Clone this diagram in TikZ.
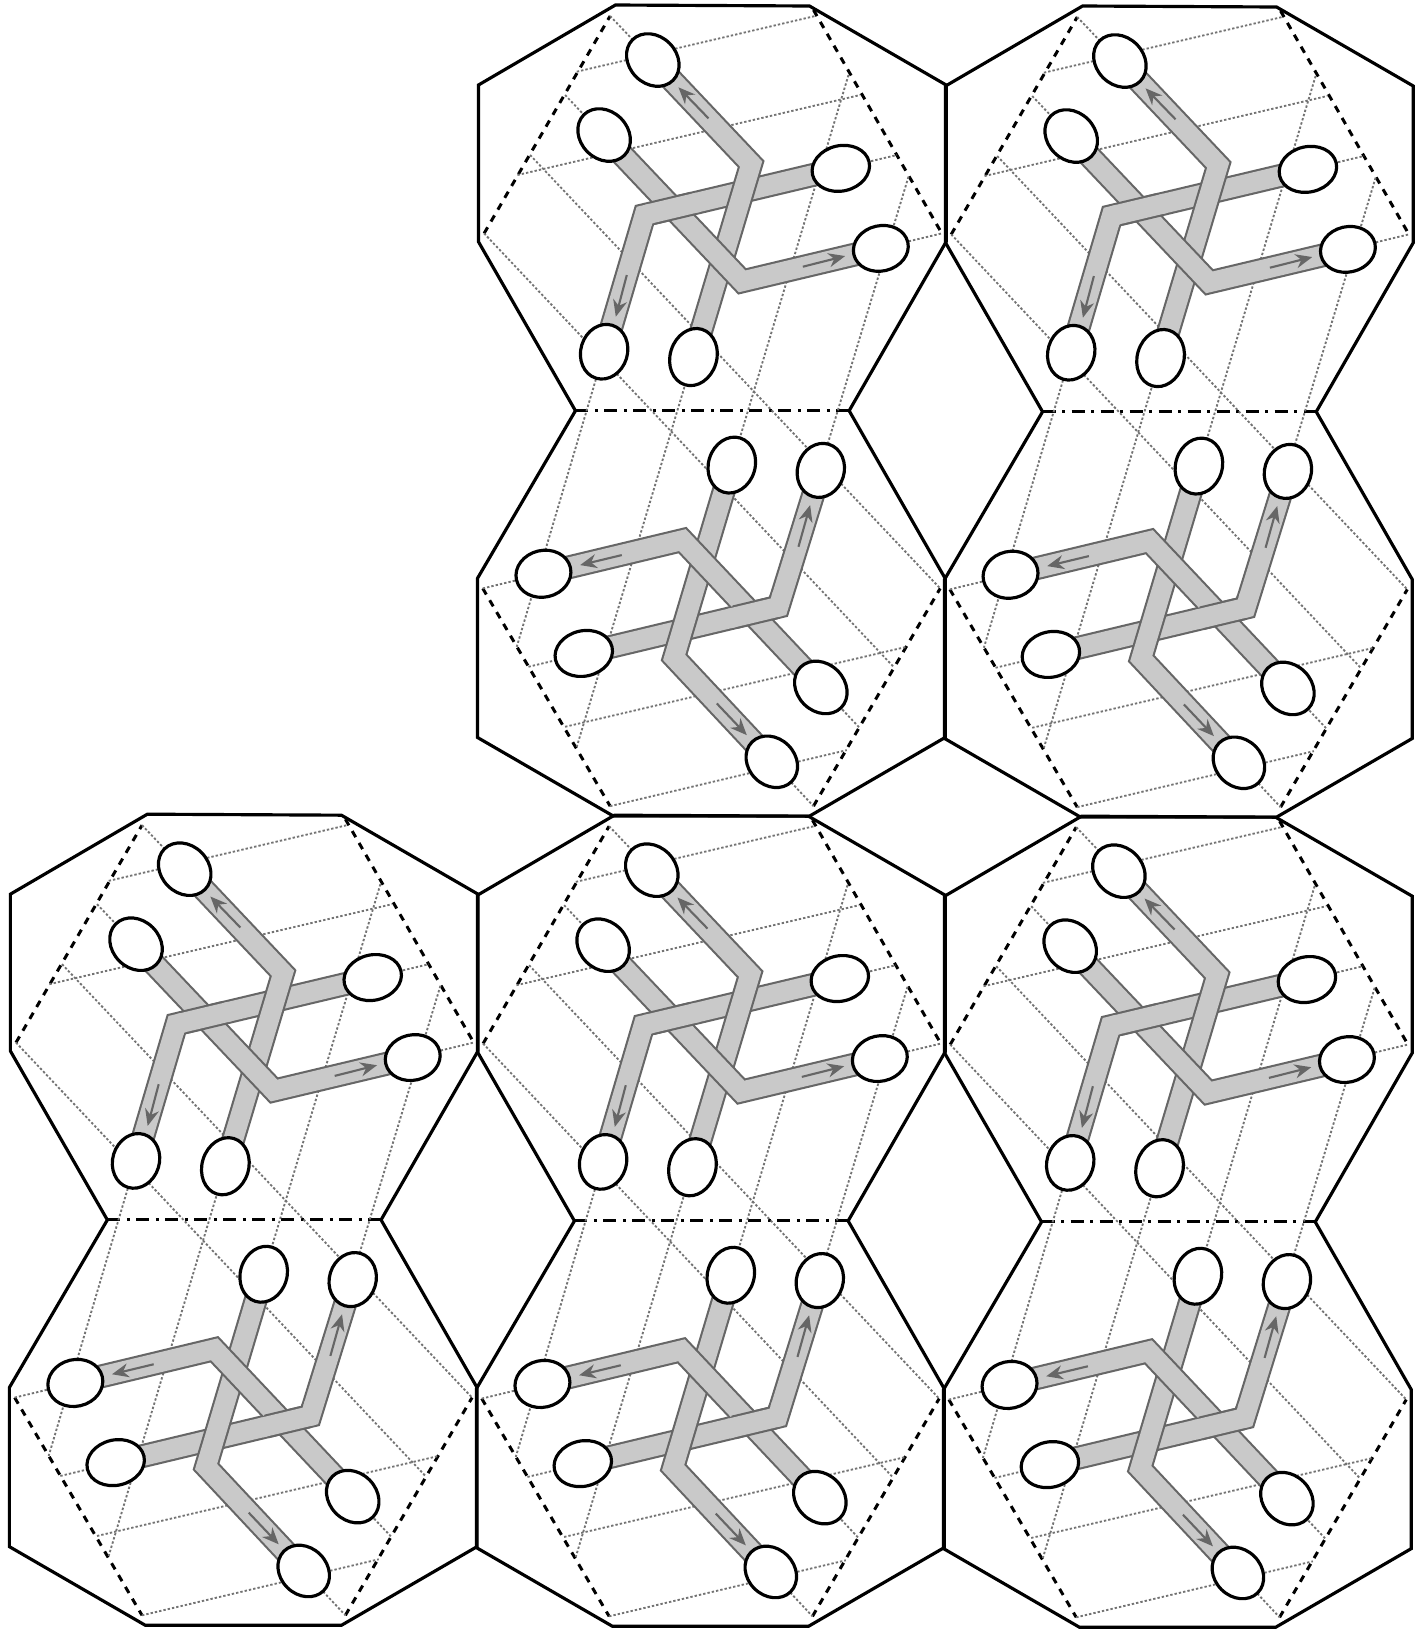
\documentclass[tikz,border=0pt]{standalone}
\usetikzlibrary{arrows.meta}
\tikzset{
  hull/.style={line width=1.8pt,line join=miter,black},
  folddash/.style={line width=1.7pt,black,dash pattern=on 4pt off 3.8pt},
  foldmid/.style={line width=1.8pt,black,dash pattern=on 7.4pt off 3.7pt on 1.7pt off 3.7pt},
  gridline/.style={line width=1.05pt,color=black!55,dash pattern=on 1.35pt off 1.15pt},
  tubeedge/.style={line width=13.6pt,color=black!60,line join=miter,miter limit=10},
  tubefill/.style={line width=11.2pt,color=black!21,line join=miter,miter limit=10},
  port/.style={line width=1.8pt,draw=black,fill=white},
  flow/.style={line width=1.2pt,color=black!60,-{Stealth[length=9.5pt,width=8pt]}},
}
\newcommand{\tube}[1]{\draw[tubeedge] #1; \draw[tubefill] #1;}
% re-lays a tube over a crossing: the fill reaches past the edges so that no seam shows
\newcommand{\tubepatch}[3]{%
  \begin{scope}\clip #1 circle (#2); \draw[tubeedge] #3; \end{scope}%
  \begin{scope}\clip #1 circle (#2+12); \draw[tubefill] #3; \end{scope}}
\newcommand{\cellunit}[2]{%
\begin{scope}[shift={(#1*0.02,-#2*0.02)},x=0.006667cm,y=-0.006667cm]
  % hull
  \draw[hull] (25,725)--(25,255)--(436,15)--(1018,18)--(1428,255)--(1428,725)--(1137,1232)--(1425,1735)--(1425,2212)--(1018,2448)--(430,2448)--(22,2212)--(22,1735)--(316,1232)--cycle;
  \draw[foldmid] (316,1232)--(1137,1232);
  \draw[folddash] (42,700)--(420,48);
  \draw[folddash] (1030,30)--(1415,700);
  \draw[folddash] (38,1765)--(420,2418);
  \draw[folddash] (1030,2418)--(1410,1765);
  % grid
  \draw[gridline] (320,215)--(1035,48);
  \draw[gridline] (142,525)--(1170,285);
  \draw[gridline] (523,645)--(1280,465);
  \draw[gridline] (816,844)--(1415,700);
  \draw[gridline] (420,48)--(843,492);
  \draw[gridline] (285,285)--(816,844);
  \draw[gridline] (180,465)--(1410,1765);
  \draw[gridline] (42,700)--(1270,2000);
  \draw[gridline] (1135,225)--(612,1972);
  \draw[gridline] (1315,530)--(925,1820);
  \draw[gridline] (523,645)--(140,1940);
  \draw[gridline] (843,492)--(320,2240);
  \draw[gridline] (38,1765)--(637,1620);
  \draw[gridline] (175,2000)--(925,1820);
  \draw[gridline] (285,2180)--(1310,1940);
  \draw[gridline] (420,2418)--(1130,2250);
  \draw[gridline] (612,1972)--(1030,2418);
  \draw[gridline] (637,1620)--(1170,2185);
  % upper tubes
  \tube{(1112,505)--(523,645)--(402,1055)}
  \tube{(548,180)--(843,492)--(670,1070)}
  \tube{(400,405)--(816,844)--(1232,745)}
  \tubepatch{(608,624)}{72}{(1112,505)--(523,645)--(402,1055)}
  % lower tubes
  \tube{(340,1960)--(925,1820)--(1052,1410)}
  \tube{(785,1392)--(612,1972)--(905,2285)}
  \tube{(220,1720)--(637,1620)--(1052,2060)}
  \tubepatch{(855,1840)}{72}{(340,1960)--(925,1820)--(1052,1410)}
  % flow arrows
  \draw[flow] (715,355)--(625,262);
  \draw[flow] (998,800)--(1125,768);
  \draw[flow] (470,825)--(437,950);
  \draw[flow] (455,1665)--(330,1695);
  \draw[flow] (985,1640)--(1020,1515);
  \draw[flow] (740,2110)--(830,2205);
  % ports
  \draw[port,rotate around={-45:(548,180)}] (548,180) ellipse [x radius=86, y radius=-71];
  \draw[port,rotate around={-45:(402,405)}] (402,405) ellipse [x radius=86, y radius=-71];
  \draw[port,rotate around={13:(1112,505)}] (1112,505) ellipse [x radius=87, y radius=-68];
  \draw[port,rotate around={13:(1232,745)}] (1232,745) ellipse [x radius=83, y radius=-68];
  \draw[port,rotate around={73:(402,1055)}] (402,1055) ellipse [x radius=83, y radius=-70];
  \draw[port,rotate around={73:(670,1071)}] (670,1071) ellipse [x radius=87, y radius=-70];
  \draw[port,rotate around={73:(785,1395)}] (785,1395) ellipse [x radius=85, y radius=-70];
  \draw[port,rotate around={73:(1052,1411)}] (1052,1411) ellipse [x radius=82, y radius=-70];
  \draw[port,rotate around={13:(220,1721)}] (220,1721) ellipse [x radius=83, y radius=-70];
  \draw[port,rotate around={13:(341,1960)}] (341,1960) ellipse [x radius=87, y radius=-68];
  \draw[port,rotate around={-45:(1052,2062)}] (1052,2062) ellipse [x radius=86, y radius=-71];
  \draw[port,rotate around={-45:(905,2285)}] (905,2285) ellipse [x radius=84, y radius=-70];
\end{scope}}
\begin{document}
\begin{tikzpicture}
  \useasboundingbox[fill=white] (0,0) rectangle (28.52,-32.58);
  \begin{scope}[shift={(470*0.02,0)}]
  \cellunit{0}{0}
  \cellunit{467}{1}
  \cellunit{-468}{809}
  \cellunit{-1}{810}
  \cellunit{466}{811}
  \end{scope}
\end{tikzpicture}
\end{document}
